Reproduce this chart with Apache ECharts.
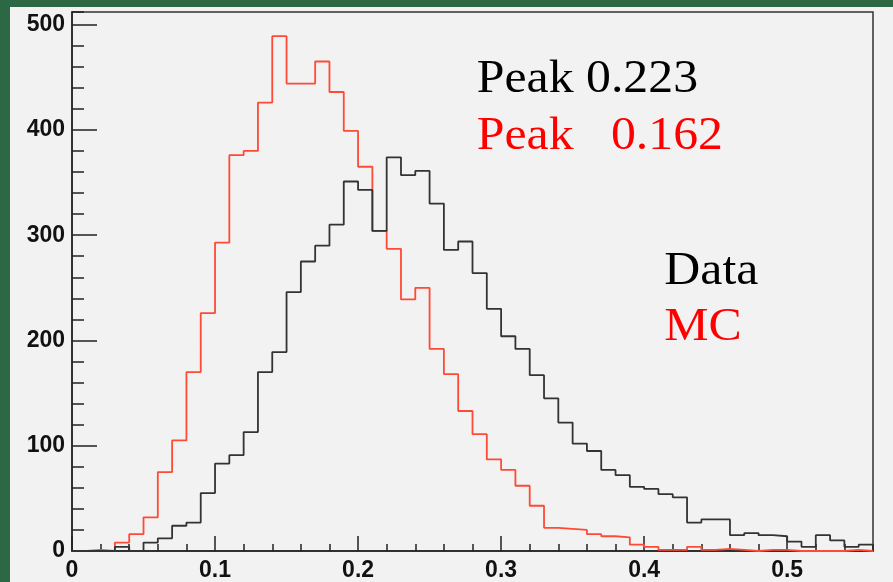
<!DOCTYPE html>
<html>
<head>
<meta charset="utf-8">
<script src="https://cdn.jsdelivr.net/npm/echarts@6/dist/echarts.min.js"></script>
<style>
  html, body { margin: 0; padding: 0; width: 893px; height: 582px; overflow: hidden;
    background: #2c6844; }
  #chart { position: absolute; left: 10px; top: 7px; width: 883px; height: 575px; background: #f2f2f2; }
</style>
</head>
<body>
<div id="chart"></div>
<script>
// Bin edges (width 0.01) from 0 to 0.56
const binEdges = [0.00,0.01,0.02,0.03,0.04,0.05,0.06,0.07,0.08,0.09,
  0.10,0.11,0.12,0.13,0.14,0.15,0.16,0.17,0.18,0.19,
  0.20,0.21,0.22,0.23,0.24,0.25,0.26,0.27,0.28,0.29,
  0.30,0.31,0.32,0.33,0.34,0.35,0.36,0.37,0.38,0.39,
  0.40,0.41,0.42,0.43,0.44,0.45,0.46,0.47,0.48,0.49,
  0.50,0.51,0.52,0.53,0.54,0.55,0.56];

// Data histogram (black)
const dataCounts = [0,0,0,4,0,8,12,24,27,55,
  83,91,113,170,189,246,275,290,310,351,
  343,304,374,357,361,330,286,294,264,230,
  204,192,167,145,122,102,95,77,72,61,
  59,54,51,27,30,30,15,17,15,14,
  9,4,15,10,4,6];

// MC histogram (red)
const mcCounts = [0,1,0,8,16,32,75,105,170,226,
  293,376,380,426,489,444,444,465,436,399,
  365,304,287,239,250,192,168,133,111,87,
  77,62,43,22,21,20,16,14,13,6,
  4,1,1,4,1,2,1,0,1,1,
  0,0,0,0,1,0];

const xTicks = [0, 0.1, 0.2, 0.3, 0.4, 0.5];
const yTicks = [0, 100, 200, 300, 400, 500];
const textLines = ["Peak 0.223", "Peak   0.162", "Data", "MC"];

function stairs(counts) {
  const pts = counts.map((v, i) => [binEdges[i], v]);
  pts.push([binEdges[counts.length], counts[counts.length - 1]]);
  return pts;
}

const chart = echarts.init(document.getElementById('chart'), null, { renderer: 'canvas' });
const axisColor = '#222';
const labelFont = { fontFamily: 'Liberation Sans', fontWeight: 'bold', fontSize: 23, color: '#111' };

const option = {
  animation: false,
  grid: { left: 62, top: 5, right: 20, bottom: 28, show: true,
    backgroundColor: '#f2f2f2', borderColor: '#333', borderWidth: 1.5 },
  xAxis: [
    { type: 'value', min: 0, max: 0.56, interval: 0.1, position: 'bottom',
      axisLine: { show: true, onZero: false, lineStyle: { color: axisColor, width: 1.5 } },
      axisTick: { show: true, inside: true, length: 15, lineStyle: { color: axisColor, width: 1.5 } },
      axisLabel: Object.assign({ margin: 8, showMaxLabel: false,
        formatter: v => (xTicks.some(t => Math.abs(t - v) < 1e-6) ? (v === 0 ? '0' : v.toFixed(1)) : '') }, labelFont),
      splitLine: { show: false } },
    { type: 'value', min: 0, max: 0.56, interval: 0.02, position: 'bottom',
      axisLine: { show: false },
      axisTick: { show: true, inside: true, length: 7, lineStyle: { color: axisColor, width: 1.5 } },
      axisLabel: { show: false }, splitLine: { show: false } }
  ],
  yAxis: [
    { type: 'value', min: 0, max: 512, interval: 100, position: 'left',
      axisLine: { show: true, onZero: false, lineStyle: { color: axisColor, width: 1.5 } },
      axisTick: { show: true, inside: true, length: 25, lineStyle: { color: axisColor, width: 1.5 } },
      axisLabel: Object.assign({ margin: 7, showMaxLabel: false,
        formatter: v => (yTicks.indexOf(v) >= 0 ? String(v) : '') }, labelFont),
      splitLine: { show: false } },
    { type: 'value', min: 0, max: 512, interval: 20, position: 'left',
      axisLine: { show: false },
      axisTick: { show: true, inside: true, length: 12, lineStyle: { color: axisColor, width: 1.5 } },
      axisLabel: { show: false }, splitLine: { show: false } }
  ],
  series: [
    { name: 'MC', type: 'line', step: 'end', xAxisIndex: 0, yAxisIndex: 0,
      data: stairs(mcCounts), symbol: 'none',
      lineStyle: { color: '#ff4a36', width: 1.8 }, z: 3 },
    { name: 'Data', type: 'line', step: 'end', xAxisIndex: 0, yAxisIndex: 0,
      data: stairs(dataCounts), symbol: 'none',
      lineStyle: { color: '#333333', width: 1.8 }, z: 4 }
  ],
  graphic: [
    { type: 'text', x: 466.7, y: 72.5, scaleX: 1.06, z: 10,
      style: { text: textLines[0], font: '47px "Liberation Serif"', fill: '#000', verticalAlign: 'middle', align: 'left' } },
    { type: 'text', x: 466.7, y: 129.5, scaleX: 1.06, z: 10,
      style: { text: textLines[1], font: '47px "Liberation Serif"', fill: '#ff0000', verticalAlign: 'middle', align: 'left' } },
    { type: 'text', x: 654.3, y: 264.5, scaleX: 1.06, z: 10,
      style: { text: textLines[2], font: '47px "Liberation Serif"', fill: '#000', verticalAlign: 'middle', align: 'left' } },
    { type: 'text', x: 654.3, y: 321, scaleX: 1.06, z: 10,
      style: { text: textLines[3], font: '47px "Liberation Serif"', fill: '#ff0000', verticalAlign: 'middle', align: 'left' } }
  ]
};
chart.setOption(option);
</script>
</body>
</html>
